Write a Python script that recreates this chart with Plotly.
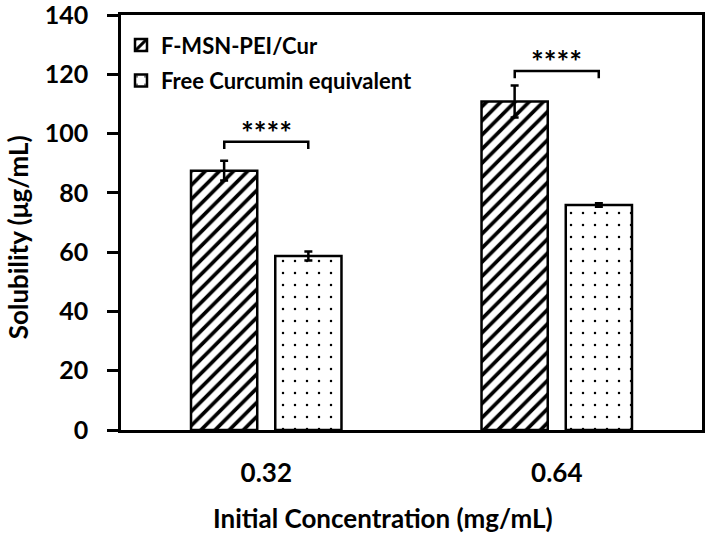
import plotly.graph_objects as go

categories = ["0.32", "0.64"]
series_names = ["F-MSN-PEI/Cur", "Free Curcumin equivalent"]
msn_values = [87.5, 110.8]
msn_errors = [3.3, 5.4]
free_values = [58.7, 75.9]
free_errors = [1.5, 0.6]
y_ticks = [0, 20, 40, 60, 80, 100, 120, 140]
sig_labels = ["****", "****"]
sig_heights = [97.2, 121.1]
x_title = "Initial Concentration (mg/mL)"
y_title = "Solubility (μg/mL)"

FONT = "Lato"
xpos = list(range(len(categories)))
off = 0.1446

fig = go.Figure()
fig.add_trace(go.Bar(
    x=xpos, y=msn_values, name=f"<b>{series_names[0]}</b>", legendgroup="a",
    marker=dict(color="white", line=dict(color="black", width=2.5),
                pattern=dict(shape="/", fgcolor="black", bgcolor="white", fgopacity=1,
                             size=10, solidity=0.37)),
    error_y=dict(type="data", array=msn_errors, color="black", thickness=2.5, width=4),
))
fig.add_trace(go.Bar(
    x=xpos, y=free_values, name=f"<b>{series_names[1]}</b>", legendgroup="b",
    marker=dict(color="white", line=dict(color="black", width=2.5),
                pattern=dict(shape=".", fgcolor="black", bgcolor="white", fgopacity=1,
                             size=12, solidity=0.035)),
    error_y=dict(type="data", array=free_errors, color="black", thickness=2.5, width=4),
))

for i, h in enumerate(sig_heights):
    x0 = xpos[i] - off
    x1 = xpos[i] + off
    fig.add_shape(type="path",
                  path=f"M {x0},{h-2.4} L {x0},{h} L {x1},{h} L {x1},{h-2.4}",
                  line=dict(color="black", width=2.5), xref="x", yref="y")
    fig.add_annotation(x=xpos[i], y=h, text=f"<b>{sig_labels[i]}</b>", showarrow=False,
                       yanchor="bottom", yshift=-10, font=dict(family=FONT, size=30, color="black"))

# axis titles as annotations (placed slightly off-centre as in the reference)
fig.add_annotation(xref="paper", yref="paper", x=0.451, y=-0.212, text=f"<b>{x_title}</b>",
                   showarrow=False, xanchor="center", yanchor="middle",
                   font=dict(family=FONT, size=26, color="black"))
fig.add_annotation(xref="paper", yref="paper", x=-0.177, y=0.465, text=f"<b>{y_title}</b>",
                   showarrow=False, xanchor="center", yanchor="middle", textangle=-90,
                   font=dict(family=FONT, size=26, color="black"))

fig.update_layout(
    width=709, height=537,
    margin=dict(l=121, r=7, t=15, b=107),
    paper_bgcolor="white", plot_bgcolor="white",
    barmode="group", bargap=0.42, bargroupgap=0.214,
    font=dict(family=FONT, color="black"),
    showlegend=True,
    legend=dict(x=0.0, y=0.978, xanchor="left", yanchor="top",
                font=dict(family=FONT, size=22, color="black"),
                traceorder="grouped", tracegroupgap=4,
                bgcolor="rgba(0,0,0,0)", itemwidth=30),
    xaxis=dict(
        range=[-0.5, 1.5], tickvals=xpos, ticktext=[f"<b>{c}</b>" for c in categories],
        showline=True, linecolor="black", linewidth=3, mirror=True,
        ticks="", showgrid=False, zeroline=False, automargin=False,
        tickfont=dict(family=FONT, size=26, color="black"),
        ticklabelstandoff=18,
    ),
    yaxis=dict(
        range=[0, 140], tickvals=y_ticks, ticktext=[f"<b>{t}</b>" for t in y_ticks],
        showline=True, linecolor="black", linewidth=2.5, mirror=True,
        ticks="outside", ticklen=11, tickwidth=2.5, tickcolor="black",
        showgrid=False, zeroline=False, automargin=False, ticklabeloverflow="allow",
        tickfont=dict(family=FONT, size=25, color="black"),
        ticklabelstandoff=14,
    ),
)

fig.write_html("out.html", config={"displayModeBar": False},
               post_script="document.body.style.margin='0';document.body.style.overflow='hidden';")
